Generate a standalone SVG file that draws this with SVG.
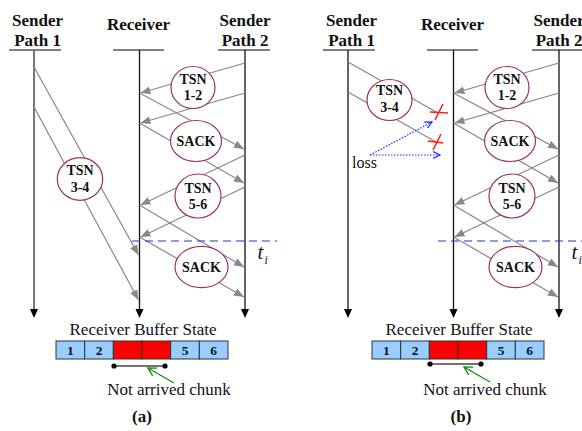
<svg xmlns="http://www.w3.org/2000/svg" width="582" height="431" viewBox="0 0 582 431">
<style>
.hdr{font-family:"Liberation Serif","Times New Roman",serif;font-weight:bold;font-size:17px;text-anchor:middle;fill:#111}
.nd{font-family:"Liberation Serif","Times New Roman",serif;font-weight:bold;font-size:14px;text-anchor:middle;fill:#111}
.txt{font-family:"Liberation Serif","Times New Roman",serif;font-size:17px;text-anchor:middle;fill:#111}
.cap{font-family:"Liberation Serif","Times New Roman",serif;font-weight:bold;font-size:17px;text-anchor:middle;fill:#111}
.num{font-family:"Liberation Serif","Times New Roman",serif;font-weight:bold;font-size:13.5px;text-anchor:middle;fill:#111}
.ti{font-family:"Liberation Serif","Times New Roman",serif;font-style:italic;fill:#111}
.ul{stroke:#555;stroke-width:1.5}
.life{stroke:#111;stroke-width:1.3;fill:none}
.msg{stroke:#888;stroke-width:1.2;fill:none;marker-end:url(#ga)}
.plain{stroke:#888;stroke-width:1.2;fill:none}
.ell{fill:#fff;stroke:#993366;stroke-width:1.2}
.dash{stroke:#2233dd;stroke-width:1.1;stroke-dasharray:8,5}
.dot{stroke:#1a2bff;stroke-width:1.2;stroke-dasharray:1.5,1.5;fill:none;marker-end:url(#ba)}
.x{stroke:#ff1a1a;stroke-width:1.6}
.blue{fill:#99ccff;stroke:#333;stroke-width:1}
.red{fill:#ff0000;stroke:#333;stroke-width:1}
</style>
<defs>
<marker id="ga" markerUnits="userSpaceOnUse" markerWidth="11" markerHeight="9" refX="10" refY="4" orient="auto"><path d="M0,0 L10,4 L0,8 z" fill="#888"/></marker>
<marker id="ba" markerUnits="userSpaceOnUse" markerWidth="10" markerHeight="9" refX="7" refY="4" orient="auto"><path d="M0,0.5 L7,4 L0,7.5" fill="none" stroke="#1a2bff" stroke-width="1.2"/></marker>
<marker id="gr" markerUnits="userSpaceOnUse" markerWidth="12" markerHeight="11" refX="8" refY="5" orient="auto"><path d="M0,0.5 L8,5 L0,9.5" fill="none" stroke="#1a8a1a" stroke-width="1.4"/></marker>
<polygon id="ah" points="-4,-9 4,-9 0,0" fill="#000"/>
</defs>

<!-- ============ Panel (a) ============ -->
<g id="a-headers">
<text class="hdr" x="37.5" y="26">Sender</text>
<text class="hdr" x="37.5" y="46">Path 1</text>
<text class="hdr" x="138.5" y="29.5">Receiver</text>
<text class="hdr" x="245" y="26">Sender</text>
<text class="hdr" x="245" y="46">Path 2</text>
<line class="ul" x1="9" y1="50" x2="61" y2="50"/>
<line class="ul" x1="113" y1="50" x2="164" y2="50"/>
<line class="ul" x1="218" y1="50" x2="270" y2="50"/>
</g>
<g id="a-lifelines">
<line x1="34" y1="50" x2="34" y2="310" stroke="#777" stroke-width="2"/>
<line class="life" x1="139.5" y1="50" x2="139.5" y2="310"/>
<line class="life" x1="245" y1="50" x2="245" y2="310"/>
<use href="#ah" x="34" y="318"/>
<use href="#ah" x="139.5" y="318"/>
<use href="#ah" x="245" y="318"/>
</g>
<g id="a-connectors">
<line class="msg" x1="245" y1="63" x2="140.5" y2="93"/>
<line class="msg" x1="245" y1="93" x2="140.5" y2="123"/>
<line class="msg" x1="245" y1="155" x2="140.5" y2="205"/>
<line class="msg" x1="245" y1="187" x2="140.5" y2="237"/>
<line class="msg" x1="139.5" y1="93" x2="244" y2="149"/>
<line class="msg" x1="139.5" y1="123" x2="244" y2="183"/>
<line class="msg" x1="139.5" y1="205" x2="244" y2="267"/>
<line class="msg" x1="139.5" y1="237" x2="244" y2="297"/>
<line class="msg" x1="34" y1="67" x2="138.5" y2="255"/>
<line class="msg" x1="34" y1="107" x2="138.5" y2="300"/>
<line class="dash" x1="132" y1="241" x2="277" y2="241"/>
</g>
<g id="a-tsn12"><ellipse class="ell" cx="193" cy="87.5" rx="22" ry="21"/><text class="nd" x="193" y="84">TSN</text><text class="nd" x="193" y="100">1-2</text></g>
<g id="a-sack1"><ellipse class="ell" cx="196" cy="141" rx="25.5" ry="20.5"/><text class="nd" x="196" y="145.5">SACK</text></g>
<g id="a-tsn56"><ellipse class="ell" cx="198" cy="196" rx="23" ry="22"/><text class="nd" x="198" y="192.5">TSN</text><text class="nd" x="198" y="209">5-6</text></g>
<g id="a-sack2"><ellipse class="ell" cx="201.5" cy="267" rx="26.5" ry="20.7"/><text class="nd" x="201.5" y="271.5">SACK</text></g>
<g id="a-tsn34"><ellipse class="ell" cx="80" cy="179" rx="22.7" ry="21.3"/><text class="nd" x="80" y="175">TSN</text><text class="nd" x="80" y="192">3-4</text></g>
<g id="a-ti"><text class="ti" x="257.5" y="259" font-size="21">t</text><text class="ti" x="264.5" y="264" font-size="12">i</text></g>

<g id="a-buffer">
<text class="txt" x="143" y="335">Receiver Buffer State</text>
<rect class="blue" x="56" y="341" width="28.67" height="18"/>
<rect class="blue" x="84.67" y="341" width="28.67" height="18"/>
<rect class="red" x="113.33" y="341" width="28.67" height="18"/>
<rect class="red" x="142" y="341" width="28.67" height="18"/>
<rect class="blue" x="170.67" y="341" width="28.67" height="18"/>
<rect class="blue" x="199.33" y="341" width="28.67" height="18"/>
<text class="num" x="70.3" y="355">1</text>
<text class="num" x="99" y="355">2</text>
<text class="num" x="185" y="355">5</text>
<text class="num" x="213.7" y="355">6</text>
<line x1="114" y1="366" x2="165" y2="366" stroke="#444" stroke-width="1.3"/>
<circle cx="114" cy="366" r="2.6" fill="#000"/>
<circle cx="165" cy="366" r="2.6" fill="#000"/>
<line x1="174" y1="383" x2="148" y2="368" stroke="#1a8a1a" stroke-width="1.4" marker-end="url(#gr)"/>
<text class="txt" x="169" y="395" font-size="16.5">Not arrived chunk</text>
</g>
<text class="cap" x="142" y="422">(a)</text>

<!-- ============ Panel (b) ============ -->
<g id="b-headers">
<text class="hdr" x="351.5" y="26">Sender</text>
<text class="hdr" x="351.5" y="46">Path 1</text>
<text class="hdr" x="452.5" y="29.5">Receiver</text>
<text class="hdr" x="559" y="26">Sender</text>
<text class="hdr" x="559" y="46">Path 2</text>
<line class="ul" x1="323" y1="50" x2="375" y2="50"/>
<line class="ul" x1="427" y1="50" x2="478" y2="50"/>
<line class="ul" x1="532" y1="50" x2="584" y2="50"/>
</g>
<g id="b-lifelines">
<line class="life" x1="348" y1="50" x2="348" y2="310"/>
<line class="life" x1="453.5" y1="50" x2="453.5" y2="310"/>
<line class="life" x1="559" y1="50" x2="559" y2="310"/>
<use href="#ah" x="348" y="318"/>
<use href="#ah" x="453.5" y="318"/>
<use href="#ah" x="559" y="318"/>
</g>
<g id="b-connectors">
<line class="msg" x1="559" y1="63" x2="454.5" y2="93"/>
<line class="msg" x1="559" y1="93" x2="454.5" y2="123"/>
<line class="msg" x1="559" y1="155" x2="454.5" y2="205"/>
<line class="msg" x1="559" y1="187" x2="454.5" y2="237"/>
<line class="msg" x1="453.5" y1="93" x2="558" y2="149"/>
<line class="msg" x1="453.5" y1="123" x2="558" y2="183"/>
<line class="msg" x1="453.5" y1="205" x2="558" y2="267"/>
<line class="msg" x1="453.5" y1="237" x2="558" y2="297"/>
<line class="plain" x1="348" y1="62" x2="438" y2="113"/>
<line class="plain" x1="348" y1="92" x2="436" y2="142"/>
<line class="dash" x1="438" y1="241" x2="584" y2="241"/>
<line class="dot" x1="370" y1="155" x2="432" y2="122"/>
<line class="dot" x1="370" y1="155" x2="440" y2="155"/>
</g>
<g id="b-loss-marks">
<line class="x" x1="430" y1="112" x2="448" y2="113"/>
<line class="x" x1="435" y1="120" x2="443" y2="104"/>
<line class="x" x1="428" y1="141" x2="443" y2="143"/>
<line class="x" x1="433" y1="150" x2="441" y2="134"/>
<text x="352" y="168" font-family="Liberation Serif, Times New Roman, serif" font-size="16" fill="#111">loss</text>
</g>
<g id="b-tsn12"><ellipse class="ell" cx="507" cy="87.5" rx="22" ry="21"/><text class="nd" x="507" y="84">TSN</text><text class="nd" x="507" y="100">1-2</text></g>
<g id="b-sack1"><ellipse class="ell" cx="510" cy="141" rx="25.5" ry="20.5"/><text class="nd" x="510" y="145.5">SACK</text></g>
<g id="b-tsn56"><ellipse class="ell" cx="512" cy="196" rx="23" ry="22"/><text class="nd" x="512" y="192.5">TSN</text><text class="nd" x="512" y="209">5-6</text></g>
<g id="b-sack2"><ellipse class="ell" cx="515.5" cy="267" rx="26.5" ry="20.7"/><text class="nd" x="515.5" y="271.5">SACK</text></g>
<g id="b-tsn34"><ellipse class="ell" cx="389.5" cy="100" rx="22.5" ry="20.5"/><text class="nd" x="389.5" y="95">TSN</text><text class="nd" x="389.5" y="111.5">3-4</text></g>
<g id="b-ti"><text class="ti" x="571.5" y="259" font-size="21">t</text><text class="ti" x="578.5" y="264" font-size="12">i</text></g>

<g id="b-buffer" transform="translate(316,0)">
<text class="txt" x="143" y="335">Receiver Buffer State</text>
<rect class="blue" x="56" y="341" width="28.67" height="18"/>
<rect class="blue" x="84.67" y="341" width="28.67" height="18"/>
<rect class="red" x="113.33" y="341" width="28.67" height="18"/>
<rect class="red" x="142" y="341" width="28.67" height="18"/>
<rect class="blue" x="170.67" y="341" width="28.67" height="18"/>
<rect class="blue" x="199.33" y="341" width="28.67" height="18"/>
<text class="num" x="70.3" y="355">1</text>
<text class="num" x="99" y="355">2</text>
<text class="num" x="185" y="355">5</text>
<text class="num" x="213.7" y="355">6</text>
<line x1="114" y1="364" x2="165" y2="364" stroke="#444" stroke-width="1.3"/>
<circle cx="114" cy="364" r="2.6" fill="#000"/>
<circle cx="165" cy="364" r="2.6" fill="#000"/>
<line x1="174" y1="382" x2="148" y2="367" stroke="#1a8a1a" stroke-width="1.4" marker-end="url(#gr)"/>
<text class="txt" x="169" y="395" font-size="16.5">Not arrived chunk</text>
</g>
<text class="cap" x="461" y="422">(b)</text>
</svg>
